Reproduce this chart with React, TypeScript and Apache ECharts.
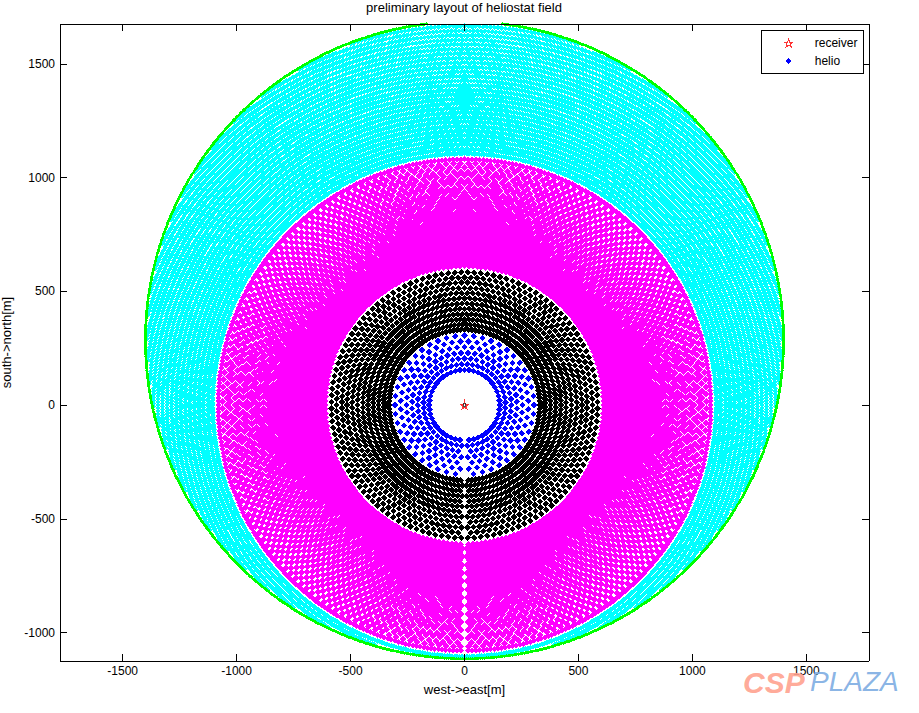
import React, { useEffect, useRef } from "react";
import * as echarts from "echarts";

// All ring radii and per-ring counts are estimates.
// The individual heliostats cannot be read one by one, so each ring is laid out
// evenly from its radius and count, as a radial-staggered field is.
const xTicks = [-1500, -1000, -500, 0, 500, 1000, 1500];
const yTicks = [-1000, -500, 0, 500, 1000, 1500];

const blueRadii = [155, 180, 205, 230, 255, 280, 305];
const blackRadii = [331, 354, 377, 400, 423, 446, 469, 492, 515, 538, 561, 584];
const magentaRadii = [
  612, 630, 648, 666, 684, 702, 720, 738, 756, 774, 792, 810, 828, 846, 864, 882, 900, 918, 936,
  954, 972, 990, 1008, 1026, 1044, 1062,
];
const magentaEdgeRadii = [1080];
const cyanRadii = [
  1105, 1125, 1145, 1165, 1185, 1205, 1225, 1245, 1265, 1285, 1305, 1325, 1345, 1365, 1385, 1405,
  1425, 1445, 1465, 1485, 1505, 1525, 1545, 1565, 1585, 1605, 1625, 1645, 1665, 1685,
];
const blueCount = 48;
const blackCount = 128;
const magentaCount = 208;
const magentaEdgeCount = 416;
const cyanCount = 640;

const boundaryRadius = [1400];
const boundaryNorthOffset = [285];
const boundaryCount = 1000;
const receiver = [[0, 0]];

const STAR =
  "path://M50 0 L61 35 L98 35 L68 57 L79 91 L50 70 L21 91 L32 57 L2 35 L39 35 Z";
const HELIO_ICON = "path://M0 0M100 100M50 15 L85 50 L50 85 L15 50 Z";

function ring(radii: number[], count: number): number[][] {
  const pts: number[][] = [];
  radii.forEach((r, k) => {
    const off = k % 2 ? 0.5 : 0;
    for (let i = 0; i < count; i++) {
      if (!off && i === 0) continue; // the open lane due south
      const a = ((i + off) * 2 * Math.PI) / count;
      pts.push([r * Math.sin(a), -r * Math.cos(a)]);
    }
  });
  return pts;
}

const insideBoundary = (p: number[]) =>
  Math.hypot(p[0], p[1] - boundaryNorthOffset[0]) <= boundaryRadius[0] - 4;

function boundary(): number[][] {
  const pts: number[][] = [];
  for (let i = 0; i < boundaryCount; i++) {
    const a = (i * 2 * Math.PI) / boundaryCount;
    pts.push([
      boundaryRadius[0] * Math.cos(a),
      boundaryNorthOffset[0] + boundaryRadius[0] * Math.sin(a),
    ]);
  }
  return pts;
}

const field = (name: string, data: number[][], color: string, size: number, symbol = "diamond") => ({
  type: "scatter",
  name,
  data,
  symbol,
  symbolSize: size,
  large: true,
  largeThreshold: 50,
  progressive: 0,
  silent: true,
  clip: true,
  itemStyle: { color, opacity: 1 },
});

const FONT = "Liberation Sans";
const plain = (v: number) => String(v);
const axisBase = {
  type: "value",
  z: 10,
  splitLine: { show: false },
  axisLine: { show: true, onZero: false, lineStyle: { color: "#000", width: 1 } },
  axisTick: { show: true, inside: true, length: 7, lineStyle: { color: "#000", width: 1 } },
};

export default function App() {
  const ref = useRef<HTMLDivElement>(null);
  useEffect(() => {
    const chart = echarts.init(ref.current!, undefined, { renderer: "svg" });
    const xRange = { min: -1775, max: 1775 };
    const yRange = { min: -1125, max: 1675 };
    chart.setOption({
      animation: false,
      backgroundColor: "#fff",
      title: {
        text: "preliminary layout of heliostat field",
        left: 464,
        top: 1,
        padding: 0,
        textAlign: "center",
        textStyle: { fontFamily: FONT, fontSize: 13, fontWeight: "normal", color: "#000" },
      },
      grid: { left: 60, right: 50, top: 24, bottom: 52, outerBoundsMode: "none" },
      xAxis: [
        {
          ...axisBase,
          ...xRange,
          position: "bottom",
          name: "west->east[m]",
          nameLocation: "middle",
          nameGap: 22,
          nameTextStyle: { fontFamily: FONT, fontSize: 13, color: "#000" },
          axisTick: { ...axisBase.axisTick, customValues: xTicks },
          axisLabel: { customValues: xTicks, formatter: plain, margin: 4, fontFamily: FONT, fontSize: 12, color: "#000" },
        },
        {
          ...axisBase,
          ...xRange,
          position: "top",
          axisTick: { ...axisBase.axisTick, customValues: xTicks },
          axisLabel: { show: false },
        },
      ],
      yAxis: [
        {
          ...axisBase,
          ...yRange,
          position: "left",
          name: "south->north[m]",
          nameLocation: "middle",
          nameGap: 43,
          nameTextStyle: { fontFamily: FONT, fontSize: 13, color: "#000" },
          axisTick: { ...axisBase.axisTick, customValues: yTicks },
          axisLabel: { customValues: yTicks, formatter: plain, margin: 5, fontFamily: FONT, fontSize: 12, color: "#000" },
        },
        {
          ...axisBase,
          ...yRange,
          position: "right",
          axisTick: { ...axisBase.axisTick, customValues: yTicks },
          axisLabel: { show: false },
        },
      ],
      legend: {
        orient: "vertical",
        left: 761,
        top: 30,
        z: 20,
        padding: [7, 6, 6, 23],
        itemGap: 6,
        itemWidth: 32,
        itemHeight: 8,
        backgroundColor: "#fff",
        borderColor: "#000",
        borderWidth: 1,
        borderRadius: 0,
        selectedMode: false,
        textStyle: { fontFamily: FONT, fontSize: 12, color: "#000", padding: [0, 0, 0, 5] },
        data: [
          { name: "receiver", icon: STAR, itemStyle: { color: "transparent", borderColor: "#f00", borderWidth: 1 } },
          { name: "helio", icon: HELIO_ICON, itemStyle: { color: "#00f" } },
        ],
      },
      series: [
        field("outer zone", ring(cyanRadii, cyanCount).filter(insideBoundary), "#00ffff", 5.6),
        field("boundary", boundary(), "#00ff00", 3, "circle"),
        field("third zone edge", ring(magentaEdgeRadii, magentaEdgeCount), "#ff00ff", 6),
        field("third zone", ring(magentaRadii, magentaCount), "#ff00ff", 7),
        field("second zone", ring(blackRadii, blackCount), "#000000", 6.5),
        field("helio", ring(blueRadii, blueCount), "#0000ff", 6.5),
        {
          type: "scatter",
          name: "receiver",
          data: receiver,
          symbol: STAR,
          symbolSize: 8,
          silent: true,
          itemStyle: { color: "transparent", borderColor: "#f00", borderWidth: 1 },
          z: 5,
        },
        {
          type: "scatter",
          name: "tower",
          data: receiver,
          symbol: "circle",
          symbolSize: 3,
          silent: true,
          itemStyle: { color: "transparent", borderColor: "#222", borderWidth: 1 },
          z: 6,
        },
      ],
      graphic: [
        {
          type: "text",
          x: 743,
          y: 667,
          z: 100,
          style: { text: "CSP", fontFamily: FONT, fontSize: 30, fontWeight: "bold", fontStyle: "italic", fill: "#FFA390", opacity: 0.92 },
        },
        {
          type: "text",
          x: 810,
          y: 667,
          z: 100,
          style: { text: "PLAZA", fontFamily: FONT, fontSize: 28, fontStyle: "italic", fill: "#7FAEE3", opacity: 0.92 },
        },
      ],
    });
    return () => chart.dispose();
  }, []);
  return (
    <div
      ref={ref}
      style={{ position: "absolute", left: 0, top: 0, width: 919, height: 713, shapeRendering: "crispEdges" } as any}
    />
  );
}
